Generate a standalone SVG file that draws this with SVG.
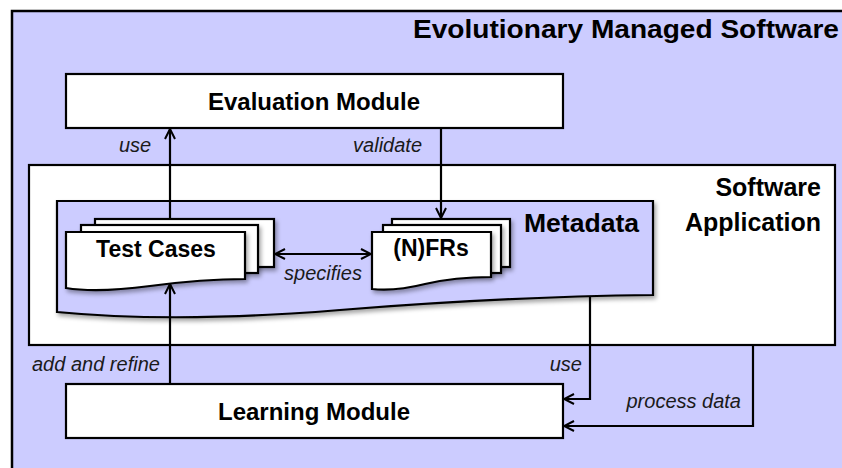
<svg xmlns="http://www.w3.org/2000/svg" width="842" height="468" viewBox="0 0 842 468">
<defs>
<style>
.box{fill:#ffffff;stroke:#000;stroke-width:2.2}
.frame{fill:#ccccff;stroke:#000;stroke-width:2.5}
.sheet{fill:#ffffff;stroke:#000;stroke-width:2.2}
.meta{fill:#ccccff;stroke:#000;stroke-width:2.2}
.bold{font-family:"Liberation Sans",Arial,sans-serif;font-weight:bold;fill:#000}
.lbl{font-family:"Liberation Sans",Arial,sans-serif;font-style:italic;font-size:20px;fill:#1a1a1a}
.conn{fill:none;stroke:#000;stroke-width:2.2}
</style>
<marker id="arr" viewBox="0 0 12 12" refX="11" refY="6" markerWidth="12" markerHeight="12" markerUnits="userSpaceOnUse" orient="auto-start-reverse">
<path d="M1,1 L11,6 L1,11" fill="none" stroke="#000" stroke-width="2"/>
</marker>
<filter id="sh" x="-10%" y="-10%" width="130%" height="140%">
<feDropShadow dx="2" dy="3" stdDeviation="2" flood-color="#000" flood-opacity="0.35"/>
</filter>
</defs>

<g id="evolutionary-managed-software">
<rect class="frame" x="12" y="11" width="850" height="470"/>
<text class="bold" x="839" y="38" font-size="25" text-anchor="end" textLength="426" lengthAdjust="spacingAndGlyphs">Evolutionary Managed Software</text>
</g>

<g id="evaluation-module">
<rect class="box" x="66" y="74" width="497" height="54"/>
<text class="bold" x="314" y="110" font-size="24" text-anchor="middle">Evaluation Module</text>
</g>

<g id="software-application">
<rect class="box" x="29" y="165" width="806" height="180"/>
<text class="bold" x="821" y="196" font-size="25" text-anchor="end">Software</text>
<text class="bold" x="821" y="231" font-size="25" text-anchor="end">Application</text>
</g>

<g id="metadata">
<path class="meta" filter="url(#sh)" d="M57,201 H653 V295 C560,296 440,302 340,310 C230,319 140,320 57,312 Z"/>
<text class="bold" x="639" y="232" font-size="25" text-anchor="end" textLength="115" lengthAdjust="spacingAndGlyphs">Metadata</text>
</g>

<g id="test-cases">
<rect class="sheet" filter="url(#sh)" x="95" y="219" width="179" height="48"/>
<rect class="sheet" filter="url(#sh)" x="81" y="225" width="177" height="48"/>
<path class="sheet" filter="url(#sh)" d="M66,232 H245 V279 C215,279 180,282 150,286 C120,290 90,292 66,288 Z"/>
<text class="bold" x="156" y="257" font-size="23" text-anchor="middle">Test Cases</text>
</g>

<g id="nfrs">
<rect class="sheet" filter="url(#sh)" x="392" y="219" width="118" height="48"/>
<rect class="sheet" filter="url(#sh)" x="383" y="225" width="118" height="48"/>
<path class="sheet" filter="url(#sh)" d="M372,232 H491 V277 C465,277 442,280 425,284 C405,289 390,291 372,289 Z"/>
<text class="bold" x="431" y="256" font-size="23" text-anchor="middle">(N)FRs</text>
</g>

<g id="learning-module">
<rect class="box" x="66" y="384" width="497" height="54"/>
<text class="bold" x="314" y="420" font-size="24" text-anchor="middle">Learning Module</text>
</g>

<g id="connectors">
<path class="conn" d="M170,219 V129" marker-end="url(#arr)"/>
<path class="conn" d="M441,128 V218" marker-end="url(#arr)"/>
<path class="conn" d="M275,254 H371" marker-start="url(#arr)" marker-end="url(#arr)"/>
<path class="conn" d="M170,384 V284" marker-end="url(#arr)"/>
<path class="conn" d="M590,296 V399 H564" marker-end="url(#arr)"/>
<path class="conn" d="M753,345 V426 H564" marker-end="url(#arr)"/>
<text class="lbl" x="119" y="152">use</text>
<text class="lbl" x="422" y="152" text-anchor="end">validate</text>
<text class="lbl" x="323" y="280" text-anchor="middle">specifies</text>
<text class="lbl" x="32" y="371">add and refine</text>
<text class="lbl" x="582" y="371" text-anchor="end">use</text>
<text class="lbl" x="741" y="408" text-anchor="end">process data</text>
</g>
</svg>
